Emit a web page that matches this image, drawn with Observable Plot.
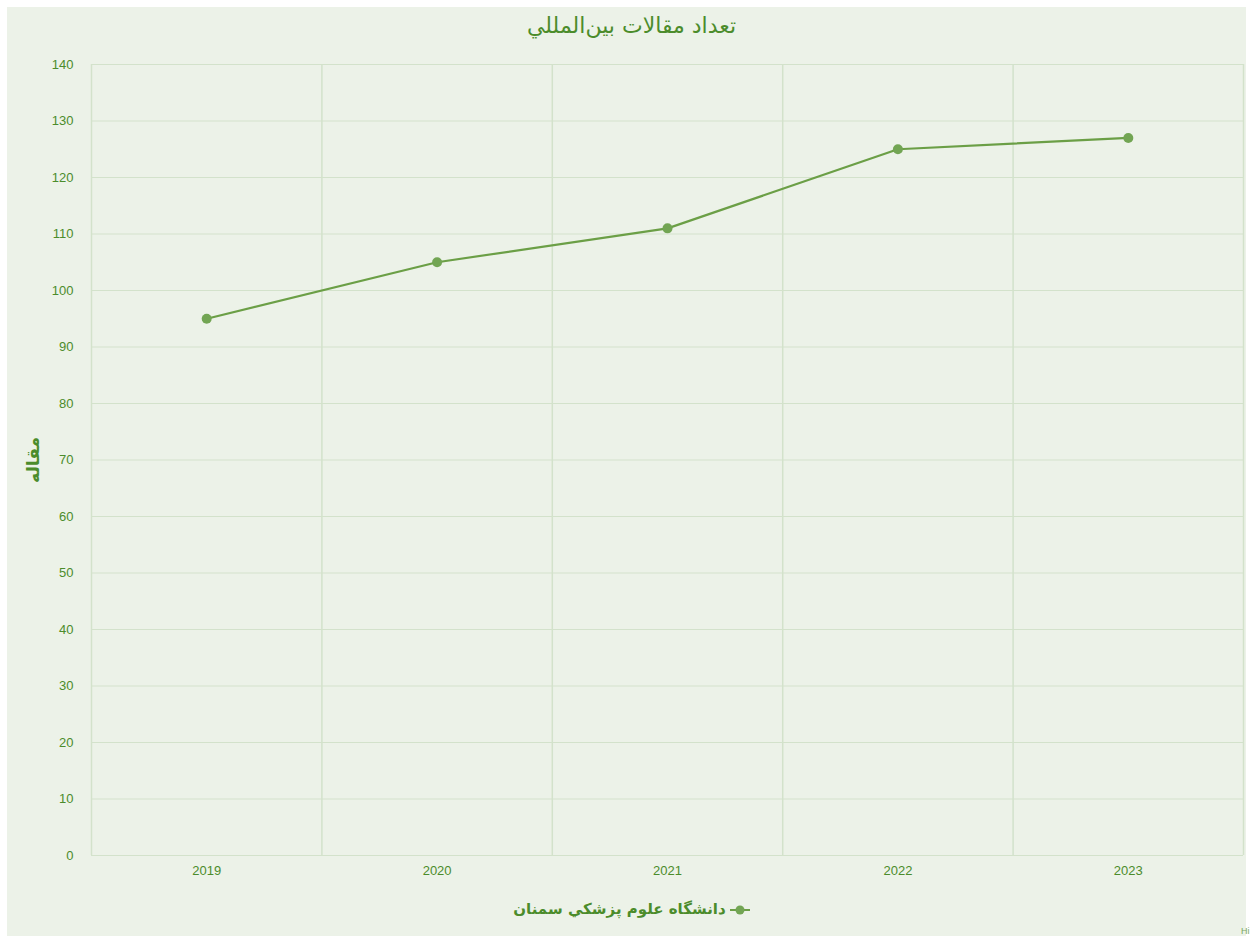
<!DOCTYPE html>
<html><head><meta charset="utf-8">
<script src="https://cdn.jsdelivr.net/npm/d3@7"></script>
<script src="https://cdn.jsdelivr.net/npm/@observablehq/plot@0.6"></script>
<style>
html,body{margin:0;padding:0;background:#fff;}
#wrap{position:relative;width:1253px;height:936px;overflow:hidden;background:#fff;}
#bg{position:absolute;left:7px;top:7px;width:1239px;height:929px;background:#ecf2e8;}
#chart{position:absolute;left:0;top:0;}
.t{position:absolute;color:#4b8c2b;font-family:"DejaVu Sans","Noto Sans",sans-serif;white-space:nowrap;}
#title{left:0;width:1263px;top:13px;text-align:center;font-size:22px;}
#ylab{left:33px;top:460px;transform:translate(-50%,-50%) rotate(-90deg);font-size:17px;font-weight:bold;}
#legend{left:0;width:1263px;top:900px;text-align:center;font-size:15px;font-weight:bold;direction:rtl;}
#hi{left:1241px;top:926px;font-size:9px;color:#7aa85c;font-family:"Liberation Sans",sans-serif;}
</style></head>
<body><div id="wrap"><div id="bg"></div><div id="chart"></div>
<div class="t" id="title">تعداد مقالات بين‌المللي</div>
<div class="t" id="ylab">مقاله</div>
<div class="t" id="legend"><svg width="20" height="12" style="vertical-align:middle;margin-left:4px"><line x1="0" x2="20" y1="6" y2="6" stroke="#6b9f46" stroke-width="2"/><circle cx="10" cy="6" r="4.5" fill="#72a553"/></svg>دانشگاه علوم پزشکي سمنان</div>
<div class="t" id="hi">Hi</div>
</div>
<script>
const years = [2019, 2020, 2021, 2022, 2023];
const articles = [95, 105, 111, 125, 127];
const yTicks = [0,10,20,30,40,50,60,70,80,90,100,110,120,130,140];
const bandEdges = [2018.5, 2019.5, 2020.5, 2021.5, 2022.5, 2023.5];

const data = years.map((y,i)=>({year:y, value:articles[i]}));
const grid = "#d3e2cb";
const txt = "#4b8c2b";

const chart = Plot.plot({
  width: 1253, height: 936,
  marginLeft: 91, marginRight: 10, marginTop: 64, marginBottom: 81,
  style: {background:"transparent", fontFamily:"'Liberation Sans', Arial, sans-serif", fontSize:"13px", color: txt},
  x: {type:"linear", domain:[2018.5, 2023.5], ticks: years, tickFormat: d=>String(d), tickSize:0, tickPadding:10, label:null},
  y: {domain:[0,140], ticks: yTicks, tickSize:0, tickPadding:18, label:null},
  marks: [
    Plot.ruleY(yTicks, {stroke: grid, strokeWidth:1.2}),
    Plot.ruleX(bandEdges, {stroke: grid, strokeWidth:1.5}),
    Plot.axisX({ticks: years, tickFormat: d=>String(d), tickSize:0, tickPadding:10, fill: txt, label:null}),
    Plot.axisY({ticks: yTicks, tickSize:0, tickPadding:18, fill: txt, label:null}),
    Plot.line(data, {x:"year", y:"value", stroke:"#6b9f46", strokeWidth:2.2}),
    Plot.dot(data, {x:"year", y:"value", r:5, fill:"#72a553", stroke:"none"})
  ]
});
document.getElementById("chart").appendChild(chart);
</script></body></html>
